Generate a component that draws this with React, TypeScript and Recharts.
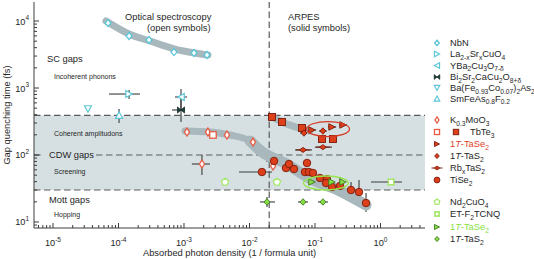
import React from 'react';
import { ComposedChart, Scatter, XAxis, YAxis, ErrorBar, ReferenceArea, ReferenceLine, Legend } from 'recharts';

if (typeof document !== 'undefined' && document.body) {
  document.body.style.margin = '0';
}

const FONT = '"Liberation Sans", Arial, Helvetica, sans-serif';
const INK = '#262626';
const AXIS = '#3c3c3c';
const DASH = '#5a5a5a';
const ERR = '#3a3a3a';
const BAND = '#d6e0e3';
const TREND = '#a8b8bc';
const CYAN = '#5cc6d8';
const RED = '#de3f1b';
const RED_EDGE = '#7a1b0b';
const RED_OPEN = '#e65c44';
const GREEN = '#86dd45';
const GREEN_EDGE = '#3d7a1c';
const GREEN_OPEN = '#a6e86c';

// ---------- axes ----------
const X_DOMAIN: [number, number] = [5.13e-6, 4.78];
const Y_DOMAIN: [number, number] = [8.13, 19230];
const X_MAJOR = [1e-5, 1e-4, 1e-3, 1e-2, 1e-1, 1];
const X_MAJOR_EXP = ['-5', '-4', '-3', '-2', '-1', '0'];
const Y_MAJOR = [10, 100, 1000, 10000];
const Y_MAJOR_EXP = ['1', '2', '3', '4'];

// ---------- regime guides ----------
const BAND_RANGE = [30, 390];
const CDW_LINE = 100;
const CDW_TEXT_GAP = [7.29e-6, 4.53e-5];
const MOTT_LINE = 30;
const OPTICAL_ARPES_SPLIT = 0.02;

// ---------- data rows: [x, y, xlo, xhi, ylo, yhi] ----------
type Row = (number | null)[];
const NBN: Row[] = [[6.92e-5, 9330], [1.45e-4, 5970], [2.92e-4, 5200], [7.03e-4, 3440], [1.42e-3, 3330], [2.24e-3, 3110]];
const LSCO: Row[] = [[1.45e-4, 813, 7.16e-5, 2.13e-4, 685, 933]];
const YBCO: Row[] = [[9.0e-4, 734, 7.29e-4, 1.11e-3, 470, 966]];
const BI2212: Row[] = [[9.0e-4, 470, 6.56e-4, 1.035e-3, 311, 734]];
const BAFECO: Row[] = [[3.42e-5, 486]];
const SMFEAS: Row[] = [[1.02e-4, 395, null, null, 300, 486]];
const K03MOO3: Row[] = [[1.11e-3, 220], [2.32e-3, 220], [4.53e-3, 199], [0.0113, 156], [1.88e-3, 73.4, 1.32e-3, 2.49e-3, 50.3, 100], [0.0229, 68.5]];
const TBTE3_OPEN: Row[] = [[2.77e-3, 199]];
const ND2CUO4: Row[] = [[4.23e-3, 39.5], [0.0263, 39.5]];
const ETF2TCNQ: Row[] = [[1.45, 39.5, 0.716, 2.13]];
const TBTE3: Row[] = [[0.0221, 369], [0.0313, 311], [0.0633, 253], [0.128, 173], [0.188, 173]];
const TASE2_RED: Row[] = [[0.09, 236, 0.078, 0.104], [0.182, 262, 0.158, 0.21], [0.268, 281, 0.233, 0.308]];
const TAS2_RED: Row[] = [[0.0679, 213, 0.059, 0.078], [0.132, 228, 0.115, 0.152]];
const RBTAS2: Row[] = [[0.0656, 119, 0.0496, 0.09], [0.132, 131, 0.1, 0.182]];
const TISE2: Row[] = [
  [0.0155, 55.7, 0.00692, 0.0221], [0.0237, 81.4, 0.0179, 0.0292], [0.0361, 63.9], [0.0401, 73.4], [0.0478, 61.8],
  [0.0755, 75.9, 0.0656, 0.0839], [0.0703, 55.7], [0.0809, 55.7], [0.0931, 53.9], [0.119, 45.4], [0.152, 43.8],
  [0.147, 38.2], [0.182, 33.3], [0.241, 34.5, null, null, 24.4, 47.0], [0.355, 30.0, null, null, 21.3, 39.5],
  [0.47, 28.0, null, null, 17.3, 42.4], [0.601, 19.2, null, null, 14.1, 27.1],
];
const TASE2_GREEN: Row[] = [[0.09, 39.5], [0.182, 39.5], [0.268, 39.5]];
const TAS2_GREEN: Row[] = [[0.0185, 19.9, 0.0145, 0.0245, 16.7, 23.6], [0.0656, 19.9, 0.055, 0.0782], [0.132, 19.9, 0.111, 0.158]];

// ---------- trend bands ----------
const NBN_TREND: Row[] = [[6.44e-5, 10000], [1.45e-4, 6400], [3.03e-4, 5030], [7.29e-4, 3820], [1.47e-3, 3330], [2.32e-3, 3110]];
const CDW_TREND_FLAT: Row[] = [[1.035e-3, 228], [2.49e-3, 220], [5.03e-3, 199], [0.0102, 162], [0.0155, 111]];
const CDW_TREND_DESC: Row[] = [[0.0102, 162], [0.0155, 111], [0.0348, 75.9], [0.0809, 45.4], [0.241, 29.0], [0.601, 17.9]];
const TBTE3_TREND: Row[] = [[0.0221, 369], [0.0313, 311], [0.0633, 245], [0.0839, 228]];

// ---------- highlight rings ----------
const RED_RING = [0.158, 244];
const GREEN_RING = [0.147, 38.2];

// ---------- annotations ----------
const NOTE_TEXT = ['Optical spectroscopy', '(open symbols)', 'ARPES', '(solid symbols)', 'SC gaps', 'Incoherent phonons', 'Coherent amplitudons', 'CDW gaps', 'Screening', 'Mott gaps', 'Hopping'];
const NOTE_X = [1.26e-4, 2.72e-4, 0.0387, 0.0387, 8.1e-6, 1.036e-5, 1.036e-5, 8.69e-6, 1.036e-5, 8.69e-6, 1.036e-5];
const NOTE_Y = [10520, 7210, 10520, 7210, 2404, 1340, 189, 88.7, 51.2, 18.9, 11.7];
const NOTE_BIG = [true, true, true, true, true, false, false, true, false, true, false];

// ---------- helpers ----------
function toPoints(rows: Row[]) {
  return rows.map((r) => {
    const [x, y, xlo, xhi, ylo, yhi] = r as number[];
    const p: any = { x, y };
    if (xlo != null && xhi != null) p.ex = [x - xlo, xhi - x];
    if (ylo != null && yhi != null) p.ey = [y - ylo, yhi - y];
    return p;
  });
}

function allTicks(domain: [number, number]) {
  const out: number[] = [];
  const k0 = Math.floor(Math.log10(domain[0]));
  const k1 = Math.ceil(Math.log10(domain[1]));
  for (let k = k0; k <= k1; k++) {
    for (let m = 1; m <= 9; m++) {
      const v = m * Math.pow(10, k);
      if (v >= domain[0] && v <= domain[1]) out.push(v);
    }
  }
  return out;
}
const X_TICKS = allTicks(X_DOMAIN);
const Y_TICKS = allTicks(Y_DOMAIN);

function majorIdx(v: number, majors: number[]) {
  for (let i = 0; i < majors.length; i++) {
    if (Math.abs(Math.log10(v) - Math.log10(majors[i])) < 1e-6) return i;
  }
  return -1;
}

type Sty = { kind: string; w: number; h: number; fill: string; stroke: string; sw: number };

function drawMarker(st: Sty, cx: number, cy: number, k: number = 1) {
  const { kind, fill, stroke, sw } = st;
  const w = st.w * k;
  const h = st.h * k;
  const hw = w / 2;
  const hh = h / 2;
  const common = { fill, stroke, strokeWidth: sw };
  switch (kind) {
    case 'diamond':
      return <polygon points={`${cx},${cy - hh} ${cx + hw},${cy} ${cx},${cy + hh} ${cx - hw},${cy}`} {...common} />;
    case 'flatDiamond':
      return (
        <g>
          <line x1={cx - w} x2={cx + w} y1={cy} y2={cy} stroke={stroke} strokeWidth={1} />
          <polygon points={`${cx},${cy - hh} ${cx + hw},${cy} ${cx},${cy + hh} ${cx - hw},${cy}`} {...common} />
        </g>
      );
    case 'square':
      return <rect x={cx - hw} y={cy - hh} width={w} height={h} {...common} />;
    case 'circle':
      return <ellipse cx={cx} cy={cy} rx={hw} ry={hh} {...common} />;
    case 'triR':
      return <polygon points={`${cx + hw},${cy} ${cx - hw},${cy - hh} ${cx - hw},${cy + hh}`} {...common} />;
    case 'triL':
      return <polygon points={`${cx - hw},${cy} ${cx + hw},${cy - hh} ${cx + hw},${cy + hh}`} {...common} />;
    case 'triU':
      return <polygon points={`${cx},${cy - hh} ${cx + hw},${cy + hh} ${cx - hw},${cy + hh}`} {...common} />;
    case 'triD':
      return <polygon points={`${cx},${cy + hh} ${cx + hw},${cy - hh} ${cx - hw},${cy - hh}`} {...common} />;
    case 'bowtie':
      return (
        <g>
          <polygon points={`${cx - hw},${cy - hh} ${cx},${cy} ${cx - hw},${cy + hh}`} {...common} />
          <polygon points={`${cx + hw},${cy - hh} ${cx},${cy} ${cx + hw},${cy + hh}`} {...common} />
        </g>
      );
    case 'pentagon': {
      const pts: string[] = [];
      for (let i = 0; i < 5; i++) {
        const a = -Math.PI / 2 + (i * 2 * Math.PI) / 5;
        pts.push(`${cx + hw * Math.cos(a)},${cy + hh * Math.sin(a)}`);
      }
      return <polygon points={pts.join(' ')} {...common} />;
    }
    case 'hash':
      return (
        <g>
          <rect x={cx - hw * 0.7} y={cy - hh * 0.7} width={w * 0.7} height={h * 0.7} {...common} />
          <line x1={cx - hw} x2={cx + hw} y1={cy - hh * 0.7} y2={cy - hh * 0.7} stroke={stroke} strokeWidth={sw} />
          <line x1={cx - hw} x2={cx + hw} y1={cy + hh * 0.7} y2={cy + hh * 0.7} stroke={stroke} strokeWidth={sw} />
          <line x1={cx - hw * 0.7} x2={cx - hw * 0.7} y1={cy - hh} y2={cy + hh} stroke={stroke} strokeWidth={sw} />
          <line x1={cx + hw * 0.7} x2={cx + hw * 0.7} y1={cy - hh} y2={cy + hh} stroke={stroke} strokeWidth={sw} />
        </g>
      );
    default:
      return <g />;
  }
}

const S = {
  nbn: { kind: 'diamond', w: 6, h: 7, fill: '#ffffff', stroke: CYAN, sw: 1.3 },
  lsco: { kind: 'triR', w: 6.5, h: 7, fill: '#ffffff', stroke: CYAN, sw: 1.2 },
  ybco: { kind: 'triL', w: 6.5, h: 7, fill: '#ffffff', stroke: CYAN, sw: 1.2 },
  bi: { kind: 'bowtie', w: 7, h: 6, fill: '#1f3f38', stroke: '#0f2a24', sw: 0.8 },
  ba: { kind: 'triD', w: 7, h: 6.5, fill: '#ffffff', stroke: CYAN, sw: 1.2 },
  sm: { kind: 'triU', w: 7, h: 6.5, fill: '#ffffff', stroke: CYAN, sw: 1.2 },
  kmo: { kind: 'diamond', w: 5, h: 8, fill: '#ffffff', stroke: RED_OPEN, sw: 1.3 },
  tbOpen: { kind: 'square', w: 6.5, h: 6.5, fill: '#ffffff', stroke: RED_OPEN, sw: 1.3 },
  tb: { kind: 'square', w: 7, h: 7, fill: RED, stroke: RED_EDGE, sw: 0.9 },
  taseR: { kind: 'triR', w: 6.5, h: 6.5, fill: RED, stroke: RED_EDGE, sw: 0.9 },
  tasR: { kind: 'diamond', w: 6, h: 6.5, fill: RED, stroke: RED_EDGE, sw: 0.9 },
  rb: { kind: 'flatDiamond', w: 7, h: 5, fill: RED, stroke: RED_EDGE, sw: 0.9 },
  tise: { kind: 'circle', w: 7.5, h: 7.5, fill: RED, stroke: RED_EDGE, sw: 0.9 },
  nd: { kind: 'pentagon', w: 7.5, h: 7.5, fill: '#ffffff', stroke: GREEN_OPEN, sw: 1.3 },
  et: { kind: 'hash', w: 7.5, h: 7.5, fill: '#ffffff', stroke: GREEN_OPEN, sw: 1.2 },
  taseG: { kind: 'triR', w: 6.5, h: 6.5, fill: GREEN, stroke: GREEN_EDGE, sw: 0.9 },
  tasG: { kind: 'diamond', w: 6, h: 6.5, fill: GREEN, stroke: GREEN_EDGE, sw: 0.9 },
};

const SERIES: { id: string; rows: Row[]; style: Sty }[] = [
  { id: 'nbn', rows: NBN, style: S.nbn },
  { id: 'lsco', rows: LSCO, style: S.lsco },
  { id: 'ybco', rows: YBCO, style: S.ybco },
  { id: 'bi', rows: BI2212, style: S.bi },
  { id: 'ba', rows: BAFECO, style: S.ba },
  { id: 'sm', rows: SMFEAS, style: S.sm },
  { id: 'kmo', rows: K03MOO3, style: S.kmo },
  { id: 'tbOpen', rows: TBTE3_OPEN, style: S.tbOpen },
  { id: 'nd', rows: ND2CUO4, style: S.nd },
  { id: 'et', rows: ETF2TCNQ, style: S.et },
  { id: 'tb', rows: TBTE3, style: S.tb },
  { id: 'tasR', rows: TAS2_RED, style: S.tasR },
  { id: 'rb', rows: RBTAS2, style: S.rb },
  { id: 'taseR', rows: TASE2_RED, style: S.taseR },
  { id: 'tise', rows: TISE2, style: S.tise },
  { id: 'tasG', rows: TAS2_GREEN, style: S.tasG },
  { id: 'taseG', rows: TASE2_GREEN, style: S.taseG },
];

const TRENDS: { id: string; rows: Row[]; width: number }[] = [
  { id: 'nbnTrend', rows: NBN_TREND, width: 7 },
  { id: 'descTrend', rows: CDW_TREND_DESC, width: 11 },
  { id: 'flatTrend', rows: CDW_TREND_FLAT, width: 7 },
  { id: 'tbTrend', rows: TBTE3_TREND, width: 7 },
];

// ---------- legend ----------
const LEGEND_LABELS = [
  'NbN', 'La_{2-x}Sr_{x}CuO_{4}', 'YBa_{2}Cu_{3}O_{7-δ}', 'Bi_{2}Sr_{2}CaCu_{2}O_{8+δ}', 'Ba(Fe_{0.93}Co_{0.07})_{2}As_{2}', 'SmFeAs_{0.8}F_{0.2}',
  'K_{0.3}MoO_{3}', 'TbTe_{3}', '1*T*-TaSe_{2}', '1*T*-TaS_{2}', 'Rb_{x}TaS_{2}', 'TiSe_{2}',
  'Nd_{2}CuO_{4}', 'ET-F_{2}TCNQ', '1*T*-TaSe_{2}', '1*T*-TaS_{2}',
];
const LEGEND_STYLES: Sty[] = [S.nbn, S.lsco, S.ybco, S.bi, S.ba, S.sm, S.kmo, S.tbOpen, S.taseR, S.tasR, S.rb, S.tise, S.nd, S.et, S.taseG, S.tasG];
const LEGEND_Y = [43, 54, 65.5, 77, 88, 98.5, 120, 132, 144, 156, 168, 180, 202, 214, 227, 239];
const LEGEND_COLORS = [INK, INK, INK, INK, INK, INK, INK, INK, '#e0432a', INK, INK, INK, INK, INK, '#86e040', INK];

function rich(s: string, fs: number) {
  const parts = s.split(/(_\{[^}]*\}|\*[^*]*\*)/).filter((p) => p.length > 0);
  let shift = 0;
  return parts.map((p, i) => {
    if (p.startsWith('_{')) {
      const d = 2.6 - shift;
      shift = 2.6;
      return <tspan key={i} dy={d} fontSize={fs * 0.72}>{p.slice(2, -1)}</tspan>;
    }
    const d = -shift;
    shift = 0;
    if (p.startsWith('*')) return <tspan key={i} dy={d} fontStyle="italic">{p.slice(1, -1)}</tspan>;
    return <tspan key={i} dy={d}>{p}</tspan>;
  });
}

const LEGEND_LEFT = 425;
const LegendBox = () => (
  <svg width={109} height={259} style={{ display: 'block' }}>
    {LEGEND_LABELS.map((lab, i) => {
      const y = LEGEND_Y[i];
      const isTb = i === 7;
      return (
        <g key={i}>
          {drawMarker(LEGEND_STYLES[i], 12, y, 0.78)}
          {isTb && drawMarker(S.tb, 31, y, 0.78)}
          <text x={isTb ? 45 : 25} y={y + 3.3} fontFamily={FONT} fontSize={9.3} fill={LEGEND_COLORS[i]}>
            {rich(lab, 9.3)}
          </text>
        </g>
      );
    })}
  </svg>
);

// ---------- ticks ----------
const BottomTick = (p: any) => {
  const i = majorIdx(p.payload.value, X_MAJOR);
  const major = i >= 0;
  return (
    <g>
      <line x1={p.x} x2={p.x} y1={p.y} y2={p.y - (major ? 5 : 3)} stroke={AXIS} strokeWidth={1} />
      {major && (
        <text x={p.x} y={p.y + 18} textAnchor="middle" fontFamily={FONT} fontSize={9.2} fill={INK}>
          10<tspan dy={-4.5} fontSize={6.5}>{X_MAJOR_EXP[i]}</tspan>
        </text>
      )}
    </g>
  );
};
const TopTick = (p: any) => {
  const major = majorIdx(p.payload.value, X_MAJOR) >= 0;
  return <line x1={p.x} x2={p.x} y1={p.y} y2={p.y + (major ? 5 : 3)} stroke={AXIS} strokeWidth={1} />;
};
const LeftTick = (p: any) => {
  const i = majorIdx(p.payload.value, Y_MAJOR);
  const major = i >= 0;
  return (
    <g>
      <line x1={p.x} x2={p.x + (major ? 5 : 3)} y1={p.y} y2={p.y} stroke={AXIS} strokeWidth={1} />
      {major && (
        <text x={p.x - 5} y={p.y + 3.5} textAnchor="end" fontFamily={FONT} fontSize={9.2} fill={INK}>
          10<tspan dy={-4.5} fontSize={6.5}>{Y_MAJOR_EXP[i]}</tspan>
        </text>
      )}
    </g>
  );
};
const RightTick = (p: any) => {
  const major = majorIdx(p.payload.value, Y_MAJOR) >= 0;
  return <line x1={p.x} x2={p.x - (major ? 5 : 3)} y1={p.y} y2={p.y} stroke={AXIS} strokeWidth={1} />;
};

const XTitle = (props: any) => {
  const vb = props.viewBox || { x: 34, y: 228, width: 391, height: 31 };
  return (
    <text x={vb.x + vb.width / 2} y={vb.y + 28} textAnchor="middle" fontFamily={FONT} fontSize={9.3} fill={INK}>
      Absorbed photon density (1 / formula unit)
    </text>
  );
};
const YTitle = (props: any) => {
  const vb = props.viewBox || { x: 0, y: 2, width: 34, height: 226 };
  const cx = vb.x + 9.5;
  const cy = vb.y + vb.height / 2;
  return (
    <text x={cx} y={cy} transform={`rotate(-90 ${cx} ${cy})`} textAnchor="middle" fontFamily={FONT} fontSize={9.3} fill={INK}>
      Gap quenching time (fs)
    </text>
  );
};

const NOTES = NOTE_TEXT.map((t, i) => ({ x: NOTE_X[i], y: NOTE_Y[i], text: t, big: NOTE_BIG[i] }));
const AXIS_LINE = { stroke: AXIS, strokeWidth: 1 };
const DASH_PROPS = { stroke: DASH, strokeDasharray: '6.5 3.5', strokeWidth: 1.2 };

export default function App() {
  return (
    <div style={{ width: 534, height: 259, background: '#ffffff', position: 'relative' }}>
      <ComposedChart width={534} height={259} margin={{ top: 2, right: 109, bottom: 0, left: 0 }}>
        <XAxis xAxisId="b" dataKey="x" type="number" scale="log" domain={X_DOMAIN} allowDataOverflow ticks={X_TICKS} interval={0}
          height={31} tickSize={0} tickMargin={0} tickLine={false} axisLine={AXIS_LINE} tick={BottomTick} label={{ content: XTitle }} />
        <XAxis xAxisId="t" orientation="top" dataKey="x" type="number" scale="log" domain={X_DOMAIN} allowDataOverflow ticks={X_TICKS} interval={0}
          height={0} tickSize={0} tickMargin={0} tickLine={false} axisLine={AXIS_LINE} tick={TopTick} />
        <YAxis yAxisId="l" dataKey="y" type="number" scale="log" domain={Y_DOMAIN} allowDataOverflow ticks={Y_TICKS} interval={0}
          width={34} tickSize={0} tickMargin={0} tickLine={false} axisLine={AXIS_LINE} tick={LeftTick} label={{ content: YTitle }} />
        <YAxis yAxisId="r" orientation="right" dataKey="y" type="number" scale="log" domain={Y_DOMAIN} allowDataOverflow ticks={Y_TICKS} interval={0}
          width={0} tickSize={0} tickMargin={0} tickLine={false} axisLine={AXIS_LINE} tick={RightTick} />

        <ReferenceArea xAxisId="b" yAxisId="l" y1={BAND_RANGE[0]} y2={BAND_RANGE[1]} fill={BAND} fillOpacity={1} stroke="none" ifOverflow="visible" />
        <ReferenceLine xAxisId="b" yAxisId="l" y={BAND_RANGE[1]} {...DASH_PROPS} />
        <ReferenceLine xAxisId="b" yAxisId="l" y={MOTT_LINE} {...DASH_PROPS} />
        <ReferenceLine xAxisId="b" yAxisId="l" ifOverflow="visible" segment={[{ x: X_DOMAIN[0], y: CDW_LINE }, { x: CDW_TEXT_GAP[0], y: CDW_LINE }]} {...DASH_PROPS} />
        <ReferenceLine xAxisId="b" yAxisId="l" ifOverflow="visible" segment={[{ x: CDW_TEXT_GAP[1], y: CDW_LINE }, { x: X_DOMAIN[1], y: CDW_LINE }]} {...DASH_PROPS} />
        <ReferenceLine xAxisId="b" yAxisId="l" x={OPTICAL_ARPES_SPLIT} {...DASH_PROPS} />

        {TRENDS.map((t) => (
          <Scatter key={t.id} xAxisId="b" yAxisId="l" data={toPoints(t.rows)} isAnimationActive={false} legendType="none"
            line={{ stroke: TREND, strokeWidth: t.width, strokeLinecap: 'round', strokeLinejoin: 'round' } as any}
            lineType="joint" lineJointType="monotoneX" shape={() => <g />} />
        ))}

        <Scatter xAxisId="b" yAxisId="l" data={NOTES} isAnimationActive={false} legendType="none"
          shape={(p: any) => {
            const d = p.payload || p;
            return (
              <text x={p.cx} y={p.cy} fontFamily={FONT} fontSize={d.big ? 9.3 : 7} fill={INK}>{d.text}</text>
            );
          }} />

        {SERIES.map((s) => (
          <Scatter key={s.id} xAxisId="b" yAxisId="l" data={toPoints(s.rows)} isAnimationActive={false} legendType="none"
            shape={(p: any) => drawMarker(s.style, p.cx, p.cy)}>
            <ErrorBar dataKey="ex" direction="x" width={0} stroke={ERR} strokeWidth={1.1} isAnimationActive={false} />
            <ErrorBar dataKey="ey" direction="y" width={0} stroke={ERR} strokeWidth={1.1} isAnimationActive={false} />
          </Scatter>
        ))}

        <Scatter xAxisId="b" yAxisId="l" data={[{ x: RED_RING[0], y: RED_RING[1] }]} isAnimationActive={false} legendType="none"
          shape={(p: any) => <ellipse cx={p.cx} cy={p.cy} rx={21.5} ry={7.5} fill="none" stroke="#d63a24" strokeWidth={1.3} />} />
        <Scatter xAxisId="b" yAxisId="l" data={[{ x: GREEN_RING[0], y: GREEN_RING[1] }]} isAnimationActive={false} legendType="none"
          shape={(p: any) => <ellipse cx={p.cx} cy={p.cy} rx={22.5} ry={7} fill="none" stroke="#96e64a" strokeWidth={1.3} />} />

        <Legend layout="vertical" align="center" verticalAlign="middle"
          wrapperStyle={{ left: LEGEND_LEFT, top: 0, width: 109, height: 259 }} content={LegendBox} />
      </ComposedChart>
    </div>
  );
}
